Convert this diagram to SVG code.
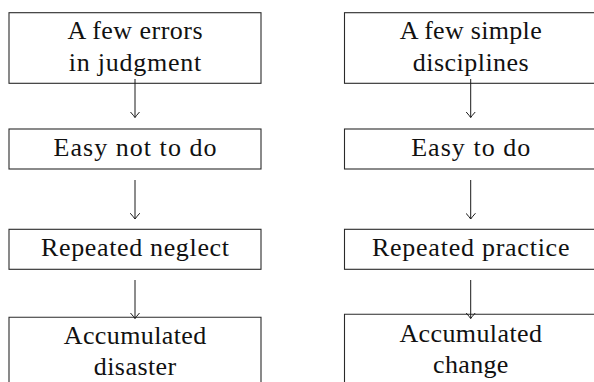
<svg xmlns="http://www.w3.org/2000/svg" width="594" height="382" viewBox="0 0 594 382">
  <defs>
    <style>
      .box { fill: #ffffff; stroke: #2a2a2a; stroke-width: 1.1; }
      .lbl { font-family: "Liberation Serif", "Times New Roman", serif; font-size: 26px; fill: #111111; text-anchor: middle; }
      .edge { fill: none; stroke: #1a1a1a; stroke-width: 1; }
    </style>
    <!-- open, curved "to"-style arrow tip -->
    <marker id="tip" viewBox="-6 -5 7 10" refX="0" refY="0" markerWidth="7" markerHeight="10" markerUnits="userSpaceOnUse" orient="auto">
      <path d="M -5.5 -4.5 Q -1.5 -1 0 0 Q -1.5 1 -5.5 4.5" fill="none" stroke="#1a1a1a" stroke-width="1" stroke-linecap="round"/>
    </marker>
  </defs>

  <rect width="594" height="382" fill="#ffffff"/>

  <!-- left column -->
  <g id="errors">
    <rect class="box" x="9" y="12.7" width="252" height="70.6"/>
    <text class="lbl" x="135" y="39" textLength="135" lengthAdjust="spacing">A few errors</text>
    <text class="lbl" x="135" y="70.7" textLength="132.5" lengthAdjust="spacing">in judgment</text>
  </g>
  <g id="easy-not">
    <rect class="box" x="9" y="129" width="252" height="40"/>
    <text class="lbl" x="135" y="156" textLength="163" lengthAdjust="spacing">Easy not to do</text>
  </g>
  <g id="neglect">
    <rect class="box" x="9" y="229.3" width="252" height="40"/>
    <text class="lbl" x="135" y="256" textLength="188" lengthAdjust="spacing">Repeated neglect</text>
  </g>
  <g id="disaster">
    <path class="box" d="M 9 392 V 317.3 H 261 V 392"/>
    <text class="lbl" x="135" y="344.3" textLength="142.5" lengthAdjust="spacing">Accumulated</text>
    <text class="lbl" x="135" y="375" textLength="82.5" lengthAdjust="spacing">disaster</text>
  </g>

  <!-- right column -->
  <g id="disciplines">
    <rect class="box" x="344.5" y="12.7" width="252.4" height="70.6"/>
    <text class="lbl" x="470.7" y="39" textLength="142" lengthAdjust="spacing">A few simple</text>
    <text class="lbl" x="470.7" y="70.7" textLength="116" lengthAdjust="spacing">disciplines</text>
  </g>
  <g id="easy">
    <rect class="box" x="344.5" y="129" width="252.4" height="40"/>
    <text class="lbl" x="470.7" y="156" textLength="119" lengthAdjust="spacing">Easy to do</text>
  </g>
  <g id="practice">
    <rect class="box" x="344.5" y="229.3" width="252.4" height="40"/>
    <text class="lbl" x="470.7" y="256" textLength="197.5" lengthAdjust="spacing">Repeated practice</text>
  </g>
  <g id="change">
    <path class="box" d="M 344.5 392 V 314.3 H 596.9 V 392"/>
    <text class="lbl" x="470.7" y="342" textLength="142.5" lengthAdjust="spacing">Accumulated</text>
    <text class="lbl" x="470.7" y="373" textLength="75.3" lengthAdjust="spacing">change</text>
  </g>

  <!-- connectors -->
  <g id="edges">
    <line class="edge" x1="135" y1="79" x2="135" y2="117.5" marker-end="url(#tip)"/>
    <line class="edge" x1="135" y1="180" x2="135" y2="219" marker-end="url(#tip)"/>
    <line class="edge" x1="135" y1="280" x2="135" y2="318.5" marker-end="url(#tip)"/>
    <line class="edge" x1="470.7" y1="79" x2="470.7" y2="117.5" marker-end="url(#tip)"/>
    <line class="edge" x1="470.7" y1="180" x2="470.7" y2="219" marker-end="url(#tip)"/>
    <line class="edge" x1="470.7" y1="280" x2="470.7" y2="318.5" marker-end="url(#tip)"/>
  </g>
</svg>
